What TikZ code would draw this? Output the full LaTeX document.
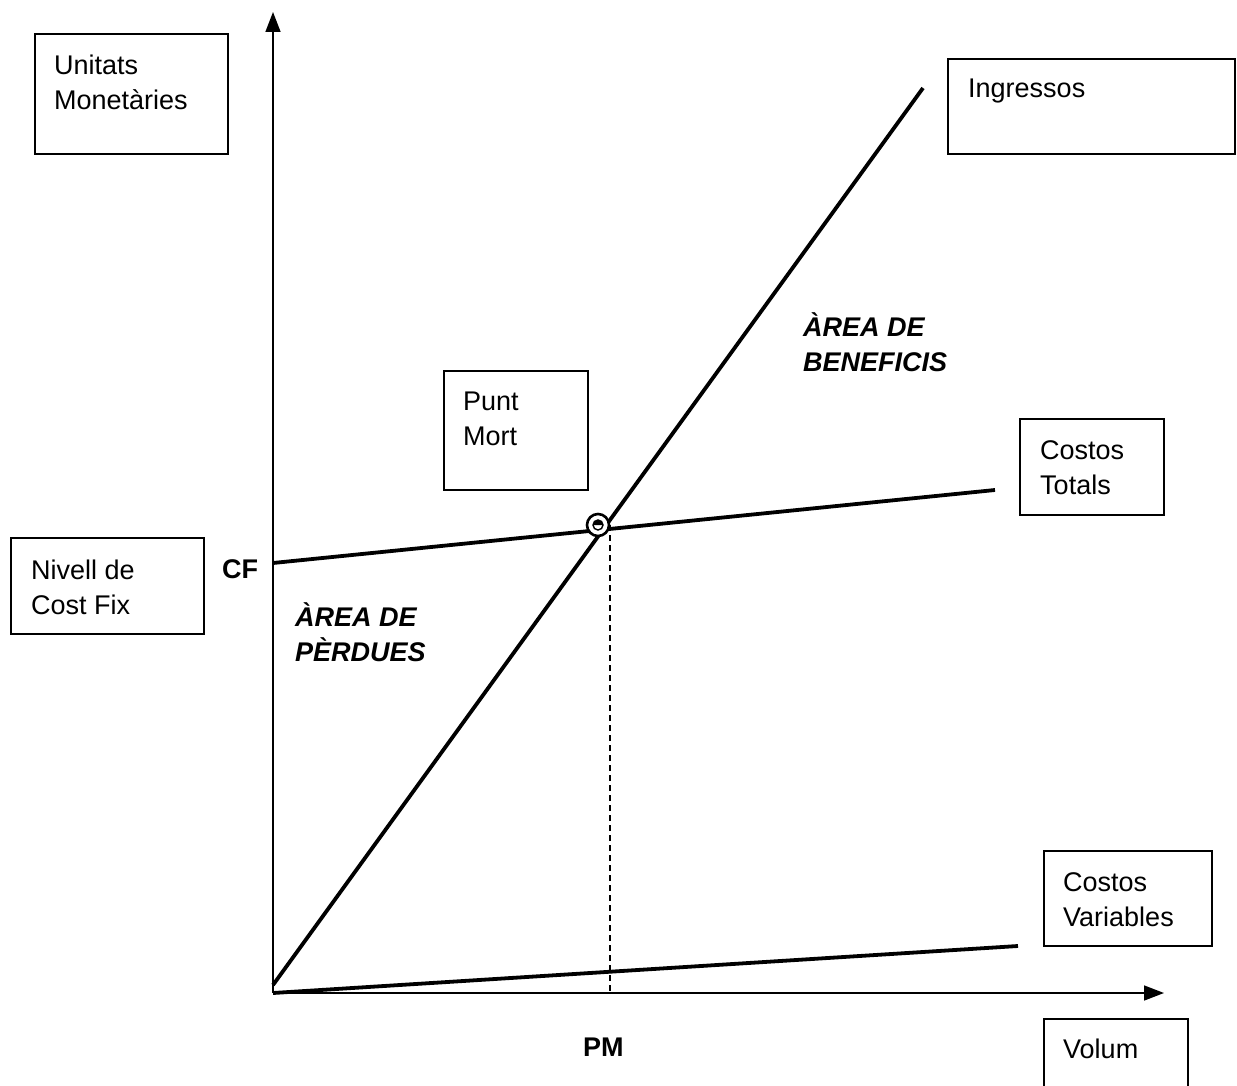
\documentclass[tikz,border=0pt]{standalone}
\usepackage{fontspec}
\setmainfont{Liberation Sans}
\usetikzlibrary{arrows.meta}
\begin{document}
\begin{tikzpicture}[x=1pt,y=-1pt,
  labelbox/.style={draw,line width=1.6pt,inner sep=0pt,anchor=north west},
  lbl/.style={anchor=base west,inner sep=0pt,align=left,
    font=\fontsize{27}{35}\selectfont},
  axis/.style={line width=1.6pt,-{Triangle[width=15pt,length=20pt]}},
  curve/.style={line width=3.8pt},
  tag/.style={anchor=base west,inner sep=0pt,font=\fontsize{27}{35}\selectfont\bfseries},
  area/.style={anchor=base west,inner sep=0pt,align=left,
    font=\fontsize{27}{35}\selectfont\bfseries\itshape}]
\useasboundingbox (0,0) rectangle (1237,1086);

% axes
\coordinate (O) at (273,993);
\coordinate (ytop) at (273,12);
\coordinate (xend) at (1164,993);
\draw[axis] (O) -- (ytop);
\draw[axis] (O) -- (xend);

% revenue, total cost and variable cost lines
\coordinate (ing0) at (273,985);
\coordinate (ing1) at (923,88);
\coordinate (ct0) at (273,563);
\coordinate (ct1) at (995,490);
\coordinate (cv1) at (1018,946);
\draw[curve] (ing0) -- (ing1);
\draw[curve] (ct0) -- (ct1);
\draw[curve] (O) -- (cv1);

% break-even point
\coordinate (pm) at (598,525);
\coordinate (pmfoot) at (610,993);
\coordinate (pmtop) at (610,525);
\draw[line width=1.3pt,dashed,dash pattern=on 6pt off 4pt] (pmtop) -- (pmfoot);
\draw[line width=2.6pt,fill=white] (pm) circle (11);
\draw[line width=1.4pt] (pm) circle (5);
\fill (598,525) ++(-5,0) arc[start angle=180,end angle=360,radius=5,y=1pt] -- cycle;

% label boxes
\node[labelbox,minimum width=193pt,minimum height=120pt] (bum) at (34,33) {};
\node[labelbox,minimum width=287pt,minimum height=95pt] (bing) at (947,58) {};
\node[labelbox,minimum width=144pt,minimum height=119pt] (bpm) at (443,370) {};
\node[labelbox,minimum width=144pt,minimum height=96pt] (bct) at (1019,418) {};
\node[labelbox,minimum width=193pt,minimum height=96pt] (bcf) at (10,537) {};
\node[labelbox,minimum width=168pt,minimum height=95pt] (bcv) at (1043,850) {};
\node[labelbox,minimum width=144pt,minimum height=90pt] (bvol) at (1043,1018) {};

% box texts (anchored at the baseline of the last line)
\node[lbl] (tum) at (54,110) {Unitats\\Monetàries};
\node[lbl] (ting) at (968,98) {Ingressos};
\node[lbl] (tpm) at (463,445) {Punt\\Mort};
\node[lbl] (tct) at (1040,494) {Costos\\Totals};
\node[lbl] (tcf) at (31,614) {Nivell de\\Cost Fix};
\node[lbl] (tcv) at (1063,926) {Costos\\Variables};
\node[lbl] (tvol) at (1063,1058) {Volum};

% axis tags
\node[tag] (cf) at (222,578) {CF};
\node[tag] (pmlab) at (583,1056) {PM};

% region labels
\node[area] (ab) at (803,371) {ÀREA DE\\BENEFICIS};
\node[area] (ap) at (295,661) {ÀREA DE\\PÈRDUES};
\end{tikzpicture}
\end{document}
